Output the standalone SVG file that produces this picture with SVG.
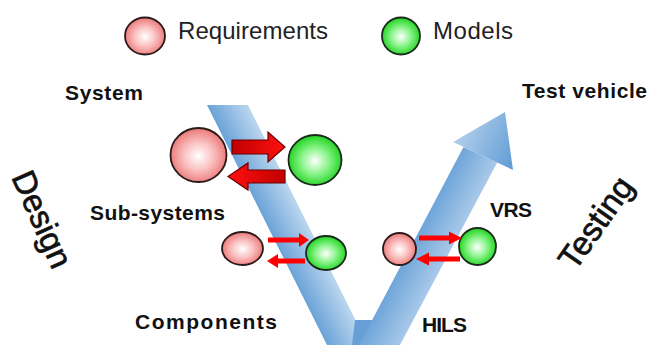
<svg xmlns="http://www.w3.org/2000/svg" width="649" height="345" viewBox="0 0 649 345">
<style>
.lbl{font-family:"Liberation Sans",Arial,sans-serif;font-weight:bold;font-size:21px;fill:#111}
.leg{font-family:"Liberation Sans",Arial,sans-serif;font-size:24px;fill:#222}
.big{font-family:"Liberation Sans",Arial,sans-serif;font-size:33px;fill:#111;stroke:#111;stroke-width:0.7}
.req{fill:url(#gRed);stroke:#2a1a1a;stroke-width:1.8}
.mod{fill:url(#gGreen);stroke:#1a2a1a;stroke-width:1.8}
.bigarrow{stroke:#6a0000;stroke-width:1.2}
.sarrow{fill:#ff0000}
</style>
<defs>
<radialGradient id="gRed" cx="50%" cy="52%" r="55%">
<stop offset="0" stop-color="#ffffff"/>
<stop offset="0.45" stop-color="#fbc4c4"/>
<stop offset="1" stop-color="#ea6f6f"/>
</radialGradient>
<radialGradient id="gGreen" cx="50%" cy="52%" r="55%">
<stop offset="0" stop-color="#ffffff"/>
<stop offset="0.45" stop-color="#8ff58f"/>
<stop offset="1" stop-color="#12d012"/>
</radialGradient>
<linearGradient id="gLeft" gradientUnits="userSpaceOnUse" x1="207" y1="105" x2="239.8" y2="88.6">
<stop offset="0" stop-color="#6aa2d8"/>
<stop offset="1" stop-color="#bcd6ee"/>
</linearGradient>
<linearGradient id="gRight" gradientUnits="userSpaceOnUse" x1="446" y1="180" x2="478.7" y2="197.3">
<stop offset="0" stop-color="#6ea5d9"/>
<stop offset="1" stop-color="#a9c9e9"/>
</linearGradient>
<linearGradient id="gHead" gradientUnits="userSpaceOnUse" x1="453" y1="142" x2="513" y2="170">
<stop offset="0" stop-color="#b3cfeb"/>
<stop offset="1" stop-color="#5f9bd5"/>
</linearGradient>
<linearGradient id="gArR" x1="0" y1="0" x2="1" y2="0">
<stop offset="0" stop-color="#c00000"/>
<stop offset="1" stop-color="#ff1010"/>
</linearGradient>
<linearGradient id="gArL" x1="0" y1="0" x2="1" y2="0">
<stop offset="0" stop-color="#ff1010"/>
<stop offset="1" stop-color="#c00000"/>
</linearGradient>
</defs>

<g id="v-shape">
<polygon points="207,105 248,105 368,345 327,345" fill="url(#gLeft)"/>
<polygon points="355,320 372.5,320 385,345 352,345" fill="#679fd6"/>
<polygon points="359,345 463.5,146.9 497.2,162.6 400,345" fill="url(#gRight)"/>
<polygon points="453,142 505,112 513,170" fill="url(#gHead)"/>
</g>

<g id="legend">
<ellipse class="req" cx="145" cy="36" rx="20" ry="18.5"/>
<text class="leg" x="178" y="39" textLength="150">Requirements</text>
<ellipse class="mod" cx="401" cy="36" rx="19" ry="18.5"/>
<text class="leg" x="433" y="39" textLength="80">Models</text>
</g>

<g id="labels">
<text class="lbl" x="65" y="100" textLength="78">System</text>
<text class="lbl" x="90" y="220" textLength="135">Sub-systems</text>
<text class="lbl" x="135" y="329" textLength="142">Components</text>
<text class="lbl" x="422" y="332" textLength="45">HILS</text>
<text class="lbl" x="490" y="217" textLength="42">VRS</text>
<text class="lbl" x="522" y="98" textLength="125">Test vehicle</text>
<text class="big" transform="translate(11,177) rotate(66)">Design</text>
<text class="big" transform="translate(575,272) rotate(-55)">Testing</text>
</g>

<g id="system-requirements"><ellipse class="req" cx="198.5" cy="155" rx="28" ry="27"/></g>
<g id="system-models"><ellipse class="mod" cx="315" cy="160" rx="26.5" ry="25"/></g>
<g id="subsystem-requirements"><ellipse class="req" cx="242.5" cy="248.5" rx="20.5" ry="16.5"/></g>
<g id="subsystem-models"><ellipse class="mod" cx="326" cy="253" rx="20" ry="17"/></g>
<g id="vrs-requirements"><ellipse class="req" cx="399.5" cy="249" rx="16.5" ry="16"/></g>
<g id="vrs-models"><ellipse class="mod" cx="477.5" cy="246.5" rx="18.5" ry="18.5"/></g>

<g id="connectors">
<path class="bigarrow" fill="url(#gArR)" d="M232,140 H268 V132 L285,147 L268,162 V154 H232 Z"/>
<path class="bigarrow" fill="url(#gArL)" d="M285,170 H248 V163 L228,176.5 L248,190 V183 H285 Z"/>
<path class="sarrow" d="M268,237.5 H299 V233 L309,240 L299,247 V242.5 H268 Z"/>
<path class="sarrow" d="M305,258.5 H278 V254 L267,261 L278,268 V263.5 H305 Z"/>
<path class="sarrow" d="M419,235.5 H449 V231.5 L462,238 L449,244.5 V240.5 H419 Z"/>
<path class="sarrow" d="M460,256.5 H429 V252.5 L416,259 L429,265.5 V261.5 H460 Z"/>
</g>
</svg>
